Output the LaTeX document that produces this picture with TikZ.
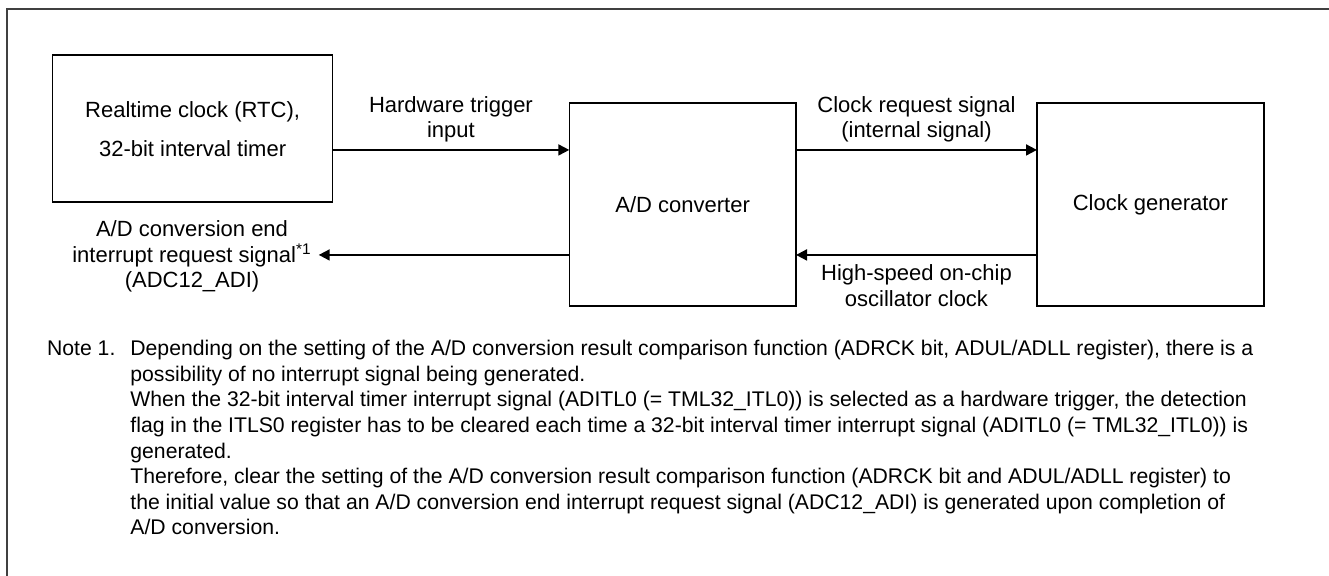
\documentclass[tikz,border=0pt]{standalone}
\usepackage{fontspec}
\setmainfont{Liberation Sans}
\usetikzlibrary{arrows.meta}

\begin{document}
\begin{tikzpicture}[x=0.5pt, y=-0.5pt,
  font=\fontsize{11pt}{12.8pt}\selectfont,
  block/.style={draw, line width=0.75pt, inner sep=0pt, outer sep=0pt, align=center},
  sig/.style={line width=0.9pt, -{Triangle[length=5.5pt,width=5.5pt]}},
  lbl/.style={align=center},
  notetext/.style={anchor=north west, inner sep=0pt, font=\fontsize{10.6pt}{12.8pt}\selectfont}]
  \useasboundingbox (0,0) rectangle (1329,576);
  % outer frame
  \draw[line width=1pt, black!75] (1329,9.3) -- (6.5,9.3) -- (6.5,576);

  % blocks
  \node[block, minimum width=140pt, minimum height=73.5pt] (rtc) at (192.6,128.7)
    {Realtime clock (RTC),\\[6.7pt]32-bit interval timer};
  \node[block, minimum width=113.35pt, minimum height=101.35pt] (adc) at (682.65,204.6) {A/D converter};
  \node[block, minimum width=113.4pt, minimum height=101.35pt] (cgc) at (1150.4,204.6) {Clock generator};

  % signals
  \draw[sig] ([yshift=-23.35pt]adc.north west -| rtc.east) -- ([yshift=-23.35pt]adc.north west)
    node[above, midway, lbl] (hwtrig) {Hardware trigger\\input};
  \draw[sig] ([yshift=-23.35pt]adc.north east) -- ([yshift=-23.35pt]cgc.north west)
    node[above, midway, lbl] (ckreq) {Clock request signal\\(internal signal)};
  \draw[sig] ([yshift=25.5pt]cgc.south west) -- ([yshift=25.5pt]adc.south east)
    node[below=1pt, midway, lbl] (hoco) {High-speed on-chip\\oscillator clock};
  \node[lbl] (adi) at (192,256.5)
    {A/D conversion end\\interrupt request signal\textsuperscript{*1}\\(ADC12\_ADI)};
  \draw[sig] ([yshift=25.5pt]adc.south west) -- ([yshift=25.5pt]adc.south west -| adi.east);

  % note
  \node[notetext] (notelbl) at (46.7,340.5) {Note 1.};
  \node[notetext, align=left] (note) at (130,340)
    {Depending on the setting of the A/D conversion result comparison function (ADRCK bit, ADUL/ADLL register), there is a\\
     possibility of no interrupt signal being generated.\\
     When the 32-bit interval timer interrupt signal (ADITL0 (= TML32\_ITL0)) is selected as a hardware trigger, the detection\\
     flag in the ITLS0 register has to be cleared each time a 32-bit interval timer interrupt signal (ADITL0 (= TML32\_ITL0)) is\\
     generated.\\
     Therefore, clear the setting of the A/D conversion result comparison function (ADRCK bit and ADUL/ADLL register) to\\
     the initial value so that an A/D conversion end interrupt request signal (ADC12\_ADI) is generated upon completion of\\
     A/D conversion.};
\end{tikzpicture}
\end{document}
